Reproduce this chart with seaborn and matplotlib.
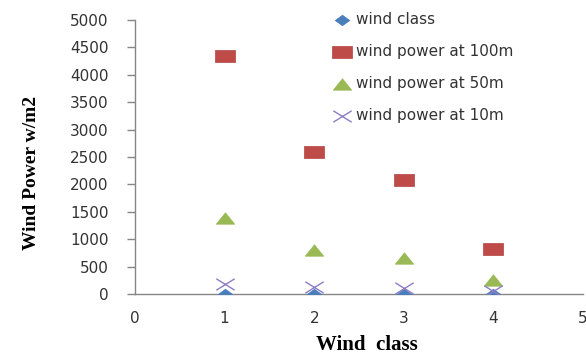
import numpy as np
import pandas as pd
import seaborn as sns
import matplotlib.pyplot as plt
from matplotlib.path import Path

# Data
wind_class = [1, 2, 3, 4]
class_marker_y = [1, 2, 3, 4]
power_100m = [4350, 2600, 2080, 820]
power_50m = [1390, 800, 650, 250]
power_10m = [190, 120, 110, 60]

x_ticks = [0, 1, 2, 3, 4, 5]
y_ticks = list(range(0, 5001, 500))

sns.set_theme(style="white")
plt.rcParams['font.family'] = ['DejaVu Sans']

fig = plt.figure(figsize=(5.86, 3.54), dpi=100)
ax = fig.add_axes([135 / 586, 1 - 294 / 354, 448 / 586, 274 / 354])

# Slightly wide marker shapes
diamond = Path([(0, 0.72), (1, 0), (0, -0.72), (-1, 0), (0, 0.72)], closed=True)
rect = Path([(-1, -0.6), (1, -0.6), (1, 0.6), (-1, 0.6), (-1, -0.6)], closed=True)
tri = Path([(-1, -0.62), (1, -0.62), (0, 0.62), (-1, -0.62)], closed=True)
cross = Path([(-1, -0.62), (1, 0.62), (-1, 0.62), (1, -0.62)],
             [Path.MOVETO, Path.LINETO, Path.MOVETO, Path.LINETO])

blue, red, green, purple = "#4a7ebb", "#be4b48", "#98b954", "#8e7cc3"

sns.scatterplot(x=wind_class, y=class_marker_y, marker=diamond, s=110,
                color=blue, edgecolor=blue, linewidth=0.5, label="wind class", ax=ax, zorder=3)
sns.scatterplot(x=wind_class, y=power_100m, marker=rect, s=190,
                color=red, edgecolor="#b04340", linewidth=0.5, label="wind power at 100m", ax=ax, zorder=3)
sns.scatterplot(x=wind_class, y=power_50m, marker=tri, s=175,
                color=green, edgecolor=green, linewidth=0.5, label="wind power at 50m", ax=ax, zorder=3)
sns.scatterplot(x=wind_class, y=power_10m, marker=cross, s=175,
                color=purple, edgecolor=purple, linewidth=1.0, label="wind power at 10m", ax=ax, zorder=4)

ax.set_xlim(0, 5)
ax.set_ylim(0, 5000)
ax.set_xticks(x_ticks)
ax.set_xticklabels([str(t) for t in x_ticks])
ax.set_yticks(y_ticks)
ax.set_yticklabels([str(t) for t in y_ticks])

for side in ["top", "right"]:
    ax.spines[side].set_visible(False)
for side in ["left", "bottom"]:
    ax.spines[side].set_color("#868686")
    ax.spines[side].set_linewidth(1.0)

ax.tick_params(axis="y", left=True, length=6, width=1, color="#868686",
               pad=13, labelsize=11, labelcolor="#333333")
ax.tick_params(axis="x", bottom=False, length=0, pad=12, labelsize=11, labelcolor="#333333")

ax.set_ylabel("Wind Power w/m2", fontfamily="Liberation Serif", fontweight="bold",
              fontsize=14, color="black")
ax.yaxis.set_label_coords(-0.212, 0.442)
ax.set_xlabel("Wind  class", fontfamily="Liberation Serif", fontweight="bold",
              fontsize=15, color="black")
ax.xaxis.set_label_coords(0.518, -0.15)

ax.legend(loc="upper left", bbox_to_anchor=(334 / 586, 1 - 12 / 354),
          bbox_transform=fig.transFigure, frameon=False, fontsize=11,
          labelspacing=1.12, handlelength=1.0, handletextpad=0.45,
          markerscale=1.0, borderaxespad=0, borderpad=0, labelcolor="#333333")

fig.savefig("out.png", dpi=100)
